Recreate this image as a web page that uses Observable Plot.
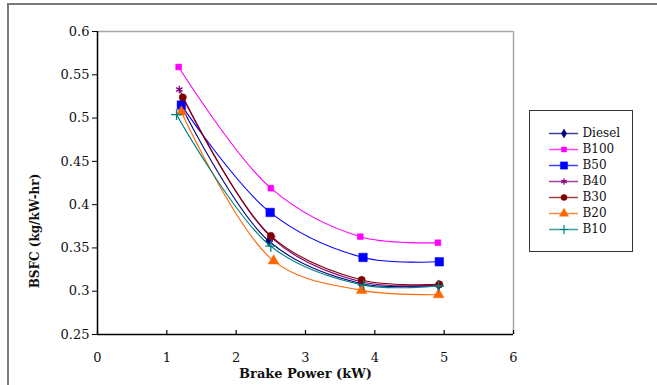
<!DOCTYPE html>
<html>
<head>
<meta charset="utf-8">
<script src="https://cdn.jsdelivr.net/npm/d3@7"></script>
<script src="https://cdn.jsdelivr.net/npm/@observablehq/plot@0.6"></script>
<style>
  html, body { margin: 0; padding: 0; background: #fff; }
  #wrap { position: relative; width: 657px; height: 385px; overflow: hidden; background: #fff; }
  #chart { position: absolute; left: 0; top: 0; }
  #legend { position: absolute; left: 529px; top: 110px; width: 102px; height: 140px; border: 1.5px solid #333; background: #fff; }
  #frame { position: absolute; left: 7px; top: 3px; width: 700px; height: 500px; border-left: 2px solid #7a7a7a; border-top: 2px solid #7a7a7a; pointer-events: none; }
</style>
</head>
<body>
<div id="wrap">
  <div id="chart"></div>
  <div id="legend"></div>
  <div id="frame"></div>
</div>
<script>
// ---- data ----
const seriesNames = ["Diesel", "B100", "B50", "B40", "B30", "B20", "B10"];
const dieselX = [1.20, 2.47, 3.80, 4.92];
const dieselY = [0.515, 0.358, 0.309, 0.307];
const b100X = [1.17, 2.50, 3.79, 4.91];
const b100Y = [0.559, 0.419, 0.363, 0.356];
const b50X = [1.21, 2.49, 3.83, 4.93];
const b50Y = [0.515, 0.391, 0.339, 0.334];
const b40X = [1.18, 2.52, 3.80, 4.92];
const b40Y = [0.533, 0.361, 0.311, 0.307];
const b30X = [1.23, 2.50, 3.81, 4.93];
const b30Y = [0.524, 0.364, 0.313, 0.308];
const b20X = [1.21, 2.54, 3.81, 4.92];
const b20Y = [0.507, 0.335, 0.301, 0.296];
const b10X = [1.14, 2.50, 3.84, 4.92];
const b10Y = [0.504, 0.352, 0.307, 0.306];
const xTicks = [0, 1, 2, 3, 4, 5, 6];
const yTicks = [0.25, 0.3, 0.35, 0.4, 0.45, 0.5, 0.55, 0.6];
const xTitle = "Brake Power (kW)";
const yTitle = "BSFC (kg/kW-hr)";

// ---- styles ----
const styles = {
  Diesel: {color: "#000080", symbol: "diamond", r: 3.2, filled: true},
  B100:   {color: "#ff00ff", symbol: "square", r: 3.3, filled: true},
  B50:    {color: "#0000ff", symbol: "square", r: 4.8, filled: true},
  B40:    {color: "#800080", symbol: "asterisk", r: 3.5, filled: false},
  B30:    {color: "#800000", symbol: "circle", r: 3.6, filled: true},
  B20:    {color: "#ff6600", symbol: "triangle", r: 4.0, filled: true},
  B10:    {color: "#008080", symbol: "plus", r: 3.6, filled: false}
};
const xs = [dieselX, b100X, b50X, b40X, b30X, b20X, b10X];
const ys = [dieselY, b100Y, b50Y, b40Y, b30Y, b20Y, b10Y];
const rows = [];
seriesNames.forEach((s, i) => xs[i].forEach((x, j) => rows.push({series: s, x, y: ys[i][j]})));

const seriesMarks = [];
seriesNames.forEach(s => {
  const st = styles[s];
  const d = rows.filter(r => r.series === s);
  seriesMarks.push(Plot.line(d, {x: "x", y: "y", stroke: st.color, strokeWidth: 1.1, curve: "catmull-rom"}));
  seriesMarks.push(Plot.dot(d, {x: "x", y: "y", symbol: () => st.symbol, r: st.r,
    fill: st.filled ? st.color : "none", stroke: st.color, strokeWidth: st.filled ? 0.5 : 1.3}));
});

const chart = Plot.plot({
  width: 657, height: 385,
  marginTop: 31, marginRight: 144, marginBottom: 51, marginLeft: 97,
  style: {fontFamily: "'DejaVu Serif', 'Liberation Serif', serif", fontSize: "13px", color: "#111", background: "transparent", overflow: "visible"},
  x: {domain: [0, 6]},
  y: {domain: [0.25, 0.6]},
  marks: [
    Plot.ruleX([6], {stroke: "#a8a8a8", strokeWidth: 1.5}),
    Plot.ruleY([0.6], {stroke: "#a8a8a8", strokeWidth: 1.5}),
    Plot.axisY({ticks: yTicks, tickSize: 5, tickPadding: 3, tickFormat: d => String(+d.toFixed(2)), label: null, stroke: "#000"}),
    Plot.axisX({ticks: xTicks, tickSize: 0, tickPadding: 18, tickFormat: d => String(d), label: null}),
    Plot.tickX(xTicks, {x: d => d, insetTop: 299, stroke: "#000", strokeWidth: 1.2}),
    ...seriesMarks,
    Plot.ruleX([0], {stroke: "#000", strokeWidth: 1.5}),
    Plot.ruleY([0.25], {stroke: "#000", strokeWidth: 1.5}),
    Plot.text([xTitle], {frameAnchor: "bottom", dy: 39, lineAnchor: "middle", textAnchor: "middle", fontWeight: "bold", fontSize: 13, fill: "#111", text: d => d}),
    Plot.text([yTitle], {frameAnchor: "middle", dx: -270, dy: 48, rotate: -90, lineAnchor: "middle", textAnchor: "middle", fontWeight: "bold", fontSize: 12, fill: "#111", text: d => d})
  ]
});
document.getElementById("chart").appendChild(chart);

// ---- legend ----
const legRows = seriesNames.map(s => ({series: s}));
const legend = Plot.plot({
  width: 102, height: 140,
  margin: 0,
  style: {fontFamily: "'DejaVu Serif', 'Liberation Serif', serif", fontSize: "12px", color: "#111", background: "transparent", overflow: "visible"},
  x: {domain: [0, 1], range: [19, 48], axis: null},
  y: {type: "point", domain: seriesNames, range: [11, 129], axis: null},
  marks: [
    Plot.ruleY(legRows, {y: "series", x1: 0, x2: 1, stroke: d => styles[d.series].color, strokeWidth: 1.5, strokeOpacity: 0.75}),
    ...seriesNames.map(s => Plot.dot([{series: s}], {x: () => 0.5, y: "series", symbol: () => styles[s].symbol, r: styles[s].r * 0.85,
      fill: styles[s].filled ? styles[s].color : "none", stroke: styles[s].color, strokeWidth: styles[s].filled ? 0.5 : 1.2})),
    Plot.text(legRows, {x: () => 1, y: "series", text: "series", textAnchor: "start", dx: 4, fill: "#111"})
  ]
});
document.getElementById("legend").appendChild(legend);
</script>
</body>
</html>
